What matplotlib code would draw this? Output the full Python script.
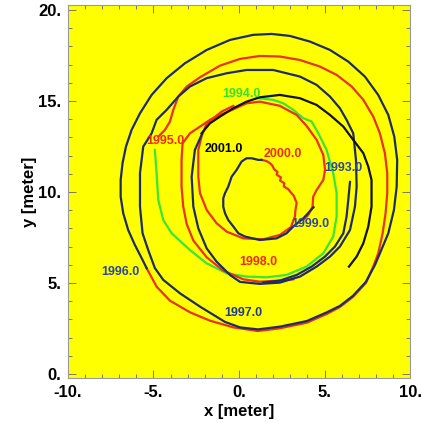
import matplotlib
matplotlib.use("Agg")
import matplotlib.pyplot as plt

plt.rcParams['font.family'] = ['Liberation Sans', 'DejaVu Sans']

# outer navy spiral (1996 -> 1997 -> inner rings)
navy_x = [-5.40, -5.69, -6.09, -6.48, -6.77, -6.92, -6.92, -6.81, -6.61, -6.28, -5.79, -5.11, -4.23, -3.16,
          -1.89, -0.53, 0.83, 1.91, 2.98, 4.15, 5.32, 6.39, 7.36, 8.14, 8.73, 9.08, 9.25, 9.22, 9.06, 8.73,
          8.24, 7.95, 7.42, 6.66, 5.90, 5.14, 3.97, 2.39, 1.11, 0.06, -0.82,
          -2.28, -3.45, -4.43, -4.92, -5.31, -5.64, -5.79, -5.79, -5.60, -5.11, -4.82, -4.23, -3.55, -2.87,
          -1.89, -0.72, 0.44, 2.00, 3.56, 4.54, 5.32, 5.90, 6.29, 6.68, 6.84, 6.88, 6.78, 6.49, 5.90, 5.32,
          4.54, 3.56, 2.39, 1.22, 0.06,
          -0.53, -1.31, -1.89, -2.38, -2.67, -2.77, -2.58, -2.19]
navy_y = [5.81, 6.36, 7.09, 7.91, 8.83, 9.74, 10.66, 11.58, 12.49, 13.41, 14.32, 15.33, 16.25, 17.07,
          17.80, 18.35, 18.63, 18.68, 18.57, 18.26, 17.80, 17.16, 16.34, 15.33, 14.23, 13.04, 11.76, 10.29,
          9.01, 7.73, 6.63, 5.99, 5.06, 4.29, 3.74, 3.39, 2.91, 2.60, 2.45, 2.56, 2.86,
          3.70, 4.43, 5.17, 5.82, 6.81, 7.73, 9.19, 11.03, 12.49, 13.22, 13.96, 14.51, 15.24, 15.79,
          16.25, 16.52, 16.70, 16.70, 16.34, 15.88, 15.24, 14.60, 13.96, 13.22, 11.76, 10.29, 9.19, 7.91,
          7.00, 6.45, 5.90, 5.35, 5.02, 4.95, 5.06,
          5.44, 6.17, 6.90, 8.00, 9.19, 10.84, 12.31, 13.13]

# outer red ring (1995 -> 1996)
red_outer_x = [-4.72, -4.33, -4.04, -3.84, -3.55, -3.06, -2.28, -1.11, 0.06, 1.22, 2.39, 3.56, 4.73, 5.71,
               6.59, 7.27, 7.85, 8.24, 8.53, 8.67, 8.67, 8.57, 8.40, 8.14, 7.85, 7.42, 6.66, 5.90, 5.14,
               3.97, 2.39, 1.11, -0.33, -1.70, -2.87, -4.04, -4.82, -5.40]
red_outer_y = [13.04, 13.41, 13.86, 14.51, 15.24, 15.79, 16.30, 16.94, 17.31, 17.47, 17.44, 17.25, 16.89,
               16.43, 15.79, 15.06, 14.14, 13.22, 12.13, 11.03, 9.93, 8.83, 7.73, 6.63, 5.90, 5.00, 4.23,
               3.68, 3.30, 2.82, 2.51, 2.36, 2.56, 2.93, 3.39, 4.03, 4.80, 5.81]

# green ring (1994 -> 1995)
green_x = [1.13, 2.00, 2.59, 3.17, 3.76, 4.25, 4.64, 5.12, 5.51, 5.71, 5.71, 5.51, 4.93, 3.95, 2.78, 1.61,
           0.44, -0.72, -1.89, -2.87, -3.94, -4.43, -4.72, -4.82, -4.92]
green_y = [15.15, 15.06, 14.87, 14.51, 14.05, 13.87, 13.22, 12.31, 11.03, 9.93, 8.65, 7.55, 6.63, 5.90,
           5.44, 5.31, 5.35, 5.53, 6.08, 6.81, 7.73, 8.46, 9.56, 11.03, 12.31]

# black arc (2001)
black_x = [-2.19, -1.70, -1.11, -0.33, 0.44, 1.22, 2.39, 3.56, 4.54, 5.32, 6.10, 6.68, 7.27, 7.56, 7.75,
           7.75, 7.56, 7.27, 6.88, 6.43]
black_y = [13.22, 13.77, 14.14, 14.60, 14.96, 15.20, 15.33, 15.15, 14.78, 14.23, 13.59, 12.86, 12.13,
           11.39, 10.66, 9.19, 8.10, 7.18, 6.45, 5.90]

# middle red ring
red_mid_x = [3.17, 2.39, 1.22, 0.25, -0.92, -1.89, -2.67, -3.06, -3.26, -3.36, -3.36, -3.30, -2.87, -2.28,
             -1.70, -1.11, -0.33, 0.44, 1.22, 2.39, 3.37, 3.95, 4.54, 4.93, 5.03, 4.93, 4.54, 4.34, 4.30,
             4.05, 3.76]
red_mid_y = [5.20, 5.13, 5.07, 5.20, 5.68, 6.41, 7.33, 8.24, 9.19, 10.29, 11.76, 12.67, 13.22, 13.59,
             13.96, 14.23, 14.54, 14.87, 14.96, 14.73, 14.23, 13.63, 12.86, 12.03, 11.21, 10.66, 10.11,
             9.74, 9.19, 8.74, 8.46]

# inner red ring (1998)
red_inner_x = [3.08, 2.39, 1.42, 0.25, -0.72, -1.31, -1.89, -2.28, -2.38, -2.38, -2.19, -1.89, -1.02, -0.33]
red_inner_y = [8.10, 7.64, 7.40, 7.45, 7.82, 8.28, 9.01, 9.93, 10.84, 12.31, 13.04, 13.77, 14.41, 14.73]

# red zigzag (2000)
red_2000_x = [1.32, 1.60, 1.81, 1.95, 2.05, 2.25, 2.20, 2.45, 2.40, 2.65, 2.62, 2.88, 3.05, 3.20, 3.37,
              3.30, 3.27, 3.08]
red_2000_y = [11.76, 11.70, 11.58, 11.45, 11.25, 11.10, 10.95, 10.80, 10.62, 10.48, 10.30, 10.15, 9.95,
              9.80, 9.40, 9.00, 8.65, 8.19]

# innermost navy loop (1999)
navy_inner_x = [4.36, 3.76, 3.17, 2.78, 2.20, 1.22, 0.35, -0.04, -0.33, -0.63, -0.82, -0.92, -0.92, -0.82,
                -0.63, -0.43, -0.14, 0.15, 0.44, 0.74, 1.13, 1.32]
navy_inner_y = [9.16, 8.55, 8.10, 7.73, 7.45, 7.36, 7.55, 7.73, 8.10, 8.46, 8.83, 9.19, 9.65, 9.93, 10.29,
                10.84, 11.21, 11.67, 11.85, 11.85, 11.76, 11.76]

# short navy arc (1993)
navy_1993_x = [6.49, 6.39, 6.29, 6.10, 5.61, 5.03, 4.25, 3.37, 2.39, 1.42]
navy_1993_y = [10.55, 9.56, 8.65, 7.73, 7.00, 6.45, 5.90, 5.44, 5.13, 5.02]

# year labels
years = ['1993.0', '1994.0', '1995.0', '1996.0', '1997.0', '1998.0', '1999.0', '2000.0', '2001.0']
year_x = [6.10, 0.15, -4.33, -6.92, 0.25, 1.13, 4.15, 2.59, -0.88]
year_y = [11.30, 15.37, 12.82, 5.62, 3.33, 6.17, 8.24, 12.09, 12.34]
year_colors = ['#2b48a0', '#33e033', '#ee2c12', '#2b48a0', '#1e3a8c', '#ee2c12', '#2b48a0', '#ee2c12', '#000000']

NAVY = '#1e2c66'
RED = '#e8321a'
GREEN = '#3ae43a'

fig = plt.figure(figsize=(4.21, 4.23), dpi=100)
ax = fig.add_axes([0.1615, 0.1064, 0.8124, 0.8818])
ax.set_facecolor('#ffff00')

lw = 1.6
ax.plot(red_outer_x, red_outer_y, color=RED, lw=lw)
ax.plot(green_x, green_y, color=GREEN, lw=lw)
ax.plot(red_mid_x, red_mid_y, color=RED, lw=lw)
ax.plot(red_inner_x, red_inner_y, color=RED, lw=lw)
ax.plot(red_2000_x, red_2000_y, color=RED, lw=lw)
ax.plot(navy_x, navy_y, color=NAVY, lw=lw)
ax.plot(navy_1993_x, navy_1993_y, color=NAVY, lw=lw)
ax.plot(navy_inner_x, navy_inner_y, color=NAVY, lw=lw)
ax.plot(black_x, black_y, color='#111111', lw=lw)

for t, x, y, c in zip(years, year_x, year_y, year_colors):
    ax.text(x, y, t, color=c, fontsize=9, fontweight='bold', ha='center', va='center', zorder=5)

ax.set_xlim(-10, 10)
ax.set_ylim(-0.22, 20.27)
ax.set_xticks([-10, -5, 0, 5, 10])
ax.set_xticklabels(['-10.', '-5.', '0.', '5.', '10.'])
ax.set_yticks([0, 5, 10, 15, 20])
ax.set_yticklabels(['0.', '5.', '10.', '15.', '20.'])
ax.set_xticks(range(-10, 11), minor=True)
ax.set_yticks(range(0, 21), minor=True)
ax.tick_params(which='both', direction='in', top=True, right=True, color='#666666', width=0.6)
ax.tick_params(which='major', length=6, labelsize=12, pad=5)
ax.tick_params(which='minor', length=3)
for lab in ax.get_xticklabels() + ax.get_yticklabels():
    lab.set_fontweight('bold')
for s in ax.spines.values():
    s.set_color('#999999')
    s.set_linewidth(0.8)

ax.set_xlabel('x [meter]', fontsize=12, fontweight='bold', labelpad=3)
ax.set_ylabel('y [meter]', fontsize=12, fontweight='bold', labelpad=1)

fig.savefig('out.png', dpi=100)
